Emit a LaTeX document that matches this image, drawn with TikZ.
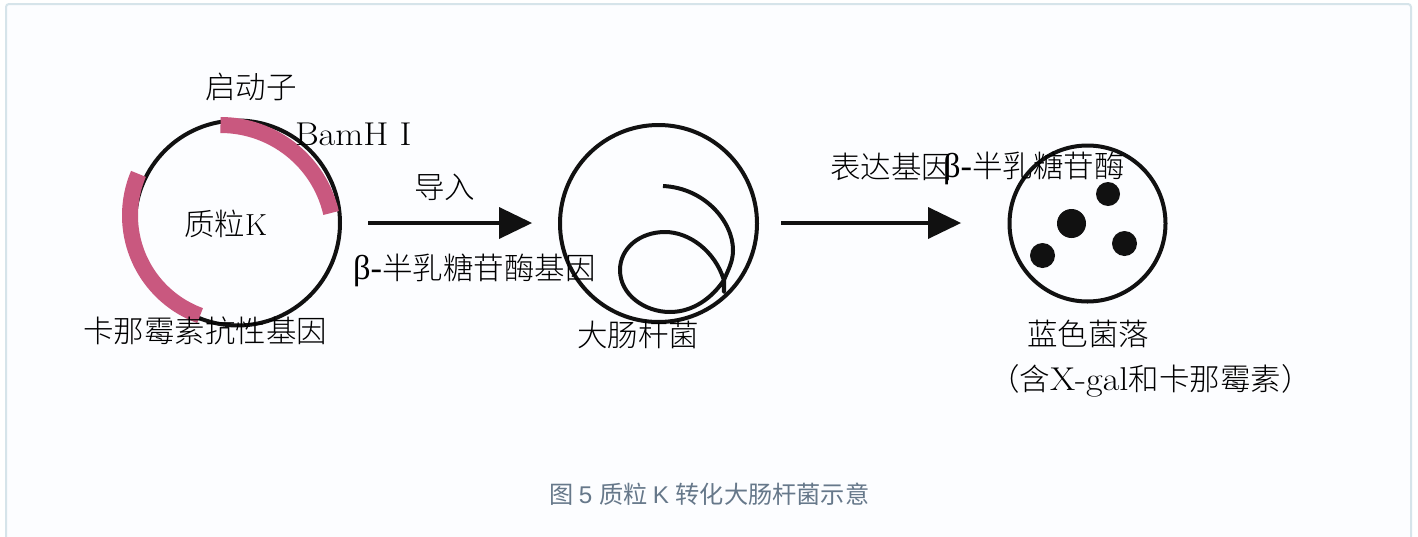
\documentclass[tikz,border=0pt]{standalone}
\usepackage{fontspec}
\newfontfamily\greek{Liberation Serif}
\newfontfamily\latin[FakeStretch=1.1]{Latin Modern Roman}
\newfontfamily\cjk{Noto Sans CJK SC Light}
\newfontfamily\capcjk{Noto Sans CJK SC}
\newfontfamily\capsans{Liberation Sans}
\newcommand{\latintext}[1]{{\fontsize{33}{33}\latin #1}}
\newcommand{\betatext}{{\fontsize{34.5}{34.5}\greek β-}}
\definecolor{ink}{HTML}{111111}
\definecolor{rosebar}{HTML}{C9587F}
\definecolor{cardbg}{HTML}{FCFDFF}
\definecolor{cardline}{HTML}{D6E4EA}
\definecolor{capgray}{HTML}{66788A}
\tikzset{
  x=1pt,y=-1pt,
  lbl/.style={inner sep=0pt,outer sep=0pt,anchor=west,text=black,font=\fontsize{30.5}{30.5}\selectfont},
  ring/.style={draw=ink,line width=4pt,circle,inner sep=0pt},
  bar/.style={draw=rosebar,line width=16pt},
  colony/.style={fill=ink,draw=none,circle,inner sep=0pt},
  shaft/.style={draw=ink,line width=4pt},
  head/.style={fill=ink,draw=none},
}
\begin{document}
\begin{tikzpicture}
\useasboundingbox (0,0) rectangle (1418,536);
\fill[white] (0,0) rectangle (1418,536);
\begin{scope}
\clip (0,0) rectangle (1418,536);
\draw[cardline,fill=cardbg,line width=2pt,rounded corners=3pt] (6,4) rectangle (1411,560);
\end{scope}
% plasmid
\node[ring,minimum size=205pt] (plasmid) at (237.5,223) {};
\draw[bar] (220.5,238.5) ++(-90:113.5) arc[start angle=-90,end angle=-13,radius=113.5];
\draw[bar] (236.5,215.5) ++(-157:106.5) arc[start angle=-157,end angle=-250,radius=106.5];
% bacterium
\node[ring,minimum size=197pt] (ecoli) at (658.5,223.5) {};
\draw[ink,line width=4pt,line join=round] (663,186) .. controls (705,188) and (733,222) .. (733,250)
  .. controls (733,262) and (728,270) .. (724,280) -- (724,292) -- (723.5,279)
  .. controls (715,252) and (690,232) .. (665,232)
  .. controls (640,232) and (620,248) .. (620,270)
  .. controls (620,295) and (645,312) .. (670,312)
  .. controls (693,312) and (712,298) .. (724,280);
% colonies
\node[ring,minimum size=156pt] (plate) at (1087.5,223.5) {};
\node[colony,minimum size=24pt] (c1) at (1108,194) {};
\node[colony,minimum size=29pt] (c2) at (1071.5,223.5) {};
\node[colony,minimum size=25pt] (c3) at (1124.5,243.5) {};
\node[colony,minimum size=25pt] (c4) at (1042.5,255.5) {};
% arrows
\coordinate (a1s) at (368,223);
\coordinate (a1e) at (500,223);
\coordinate (a2s) at (781,223);
\coordinate (a2e) at (929,223);
\draw[shaft] (a1s) -- (a1e);
\fill[head] (499,207) -- (532,223) -- (499,239) -- cycle;
\draw[shaft] (a2s) -- (a2e);
\fill[head] (928,207) -- (961,223) -- (928,239) -- cycle;
% labels
\node[lbl] (l1) at (205,87) {\cjk 启动子};
\node[lbl] (l2) at (295,134) {\latintext{BamH I}};
\node[lbl] (l3) at (184,224) {\cjk 质粒\rmfamily K};
\node[lbl] (l4) at (414,187) {\cjk 导入};
\node[lbl] (l5) at (353,270) {\betatext\cjk 半乳糖苷酶基因};
\node[lbl] (l6) at (83,331) {\cjk 卡那霉素抗性基因};
\node[lbl] (l7) at (577,335) {\cjk 大肠杆菌};
\node[lbl] (l8) at (830,167) {\cjk 表达基因};
\node[lbl] (l9) at (943,168) {\betatext\cjk 半乳糖苷酶};
\node[lbl] (l10) at (1027,334) {\cjk 蓝色菌落};
\node[lbl] (l11) at (989,381) {\cjk （含\latintext{X-gal}\cjk 和卡那霉素）};
\node[inner sep=0pt,anchor=west,text=capgray,font=\fontsize{24.2}{24.2}\selectfont] (cap) at (549,494) {\capcjk 图 \capsans 5 \capcjk 质粒 \capsans K \capcjk 转化大肠杆菌示意};
\end{tikzpicture}
\end{document}
